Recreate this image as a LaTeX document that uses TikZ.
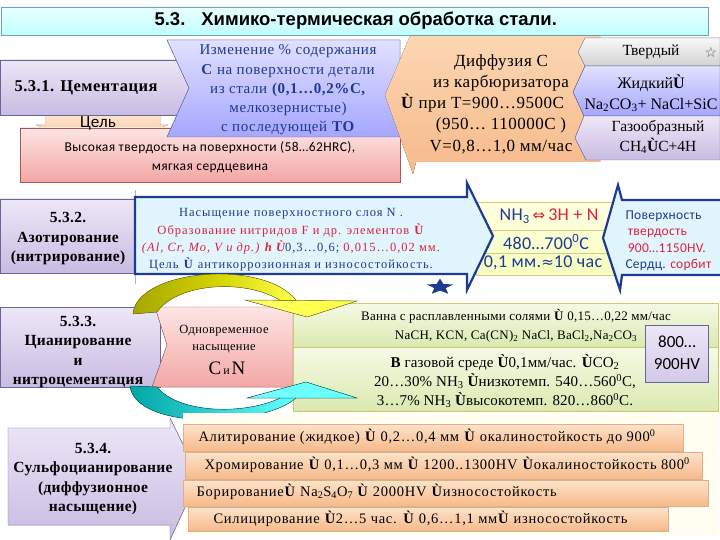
\documentclass[tikz,border=0pt]{standalone}
\usepackage{fontspec}
\setmainfont{Liberation Serif}
\newfontfamily\arialfont{Liberation Sans}
\newfontfamily\calfont{Carlito}
\newfontfamily\dejafont{DejaVu Sans}
\usetikzlibrary{calc}

\definecolor{navy}{HTML}{1F3A93}
\definecolor{redtxt}{HTML}{E0203C}
\definecolor{lilactop}{HTML}{EDE7F7}
\definecolor{lilacbot}{HTML}{C9BBE2}
\definecolor{peachtop}{HTML}{FCD7B3}
\definecolor{peachbot}{HTML}{F7B98B}
\definecolor{pinktop}{HTML}{FDE5E4}
\definecolor{pinkbot}{HTML}{F3A7A6}
\definecolor{greentop}{HTML}{F6FAE5}
\definecolor{greenbot}{HTML}{DAE9B0}

\newcommand{\Uarr}{\textbf{Ù}}
\newcommand{\spaced}[1]{\addfontfeature{LetterSpace=#1}}

\tikzset{
  titlebar/.style={draw=gray!60!cyan, top color=cyan!8, bottom color=cyan!25},
  lilac/.style={draw=gray!80!blue, top color=lilactop, bottom color=lilacbot},
  bluebox/.style={draw=blue!30!gray, top color=blue!12, bottom color=blue!35},
  peach/.style={draw=none, top color=peachtop, bottom color=peachbot},
  pinkbox/.style={draw=red!30!gray, top color=pinktop, bottom color=pinkbot},
  graybox/.style={draw=gray, top color=gray!5, bottom color=gray!35},
  greenbox/.style={draw=olive!45, top color=greentop, bottom color=greenbot},
  barbox/.style={draw=brown!60, top color=peachtop!70, bottom color=peachbot},
  navyarrow/.style={draw=navy, line width=2.2pt, fill=cyan!12, line join=miter},
  headtxt/.style={font=\bfseries\fontsize{15.5}{19.5}\selectfont\spaced{2}, align=center},
  caltxt/.style={font=\calfont\fontsize{18}{21}\selectfont\spaced{2}, text=navy, align=center},
  bartxt/.style={font=\fontsize{14.5}{16}\selectfont\spaced{5}, anchor=west}
}

\begin{document}
\begin{tikzpicture}[x=1pt,y=-1pt]
\useasboundingbox (0,0) rectangle (720,540);

% title
\filldraw[titlebar] (1,7) rectangle (708,35);
\node[font=\arialfont\bfseries\fontsize{18.5}{19}\selectfont, anchor=west] (title) at (151,21) {5.3.\hspace{16pt}Химико-термическая обработка стали.};

% 5.3.1 cementation
\filldraw[draw=brown!50, top color=peachtop!60, bottom color=peachbot] (45,113) -- (160,113) -- (160,125) -- (168,125) -- (102,150) -- (36,125) -- (45,125) -- cycle;
\filldraw[pinkbox] (20,128) rectangle (400,182);
\filldraw[lilac] (0,60) rectangle (192,115);
\filldraw[bluebox] (167,40) -- (400,40) -- (400,137) -- (167,137) -- (189,88) -- cycle;
\filldraw[peach] (410,36) -- (600,36) -- (600,162) -- (416,162) -- (413,174) -- (385,95) -- cycle;

\node[headtxt, font=\bfseries\fontsize{16.5}{19}\selectfont\spaced{3}] (s531) at (86,88) {5.3.1. Цементация};
\node[font=\calfont\fontsize{17}{18}\selectfont] (goal) at (98,123) {Цель};
\node[font=\calfont\fontsize{13.5}{18.5}\selectfont\spaced{3}, align=center] (hard) at (210,157) {Высокая твердость на поверхности (58…62HRC),\\мягкая сердцевина};
\node[font=\fontsize{15}{19.25}\selectfont\spaced{4}, text=navy, align=center] (change) at (288,90) {Изменение \% содержания\\\textbf{С} на поверхности детали\\из стали \textbf{(0,1…0,2\%С,}\\мелкозернистые)\\с последующей \textbf{ТО}};
\node[font=\fontsize{17}{21.25}\selectfont\spaced{3}, align=center] (diff) at (501,104) {Диффузия С\\из карбюризатора\\\makebox[200pt][l]{\Uarr{} при Т=900…9500С}\\(950… 110000С )\\V=0,8…1,0 мм/час};

\filldraw[graybox] (585,38) -- (720,38) -- (720,66) -- (585,66) -- (578,52) -- cycle;
\filldraw[bluebox] (585,66) -- (720,66) -- (720,116) -- (584,116) -- (573,92) -- cycle;
\filldraw[lilac] (584,116) -- (720,116) -- (720,160) -- (586,160) -- (575,138) -- cycle;
\node[font=\fontsize{15.5}{17}\selectfont] (solid) at (651,52) {Твердый};
\node[font=\dejafont\fontsize{14}{14}\selectfont, text=gray!70!black] (starw) at (711,52) {☆};
\node[font=\fontsize{16}{21}\selectfont, align=center] (liquid) at (651,93) {Жидкий\Uarr{}\\Na\textsubscript{2}CO\textsubscript{3}+ NaCl+SiC};
\node[font=\fontsize{15.5}{20}\selectfont, align=center] (gas1) at (658,137) {Газообразный\\CH\textsubscript{4}\Uarr{}C+4H};

% 5.3.2 nitriding
\filldraw[lilac] (0,199) rectangle (134,273);
\draw[gray!60] (135,190) -- (135,284);
\filldraw[draw=olive!40, top color=yellow!12, bottom color=green!15!yellow!25] (476,202) rectangle (618,275);
\draw[olive!40] (476,230) -- (618,230) (476,253) -- (618,253);
\filldraw[navyarrow] (135,197) -- (467,197) -- (467,183) -- (493,236) -- (467,290) -- (467,274) -- (135,274) -- cycle;
\filldraw[navyarrow] (720,200) -- (622,200) -- (618,185) -- (603,238) -- (620,290) -- (622,275) -- (720,275);
\fill[navy, shift={(440,287)}, yscale=0.6] (-90:14) -- (-54:6) -- (-18:14) -- (18:6) -- (54:14) -- (90:6) -- (126:14) -- (162:6) -- (198:14) -- (234:6) -- cycle;

\node[headtxt] (s532) at (68,239) {5.3.2.\\Азотирование\\(нитрирование)};
\node[font=\fontsize{12.5}{17.3}\selectfont\spaced{8}, align=center] (nitr) at (291,240) {\textcolor{navy}{Насыщение поверхностного слоя N .}\\\textcolor{redtxt}{Образование нитридов F и др. элементов \Uarr{}}\\\textcolor{redtxt}{\itshape (Al, Cr, Mo, V и др.) \textbf{h} \Uarr{}}\textcolor{navy}{0,3…0,6; }\textcolor{redtxt}{0,015…0,02 мм.}\\\textcolor{navy}{Цель \Uarr{} антикоррозионная и износостойкость.}};
\node[caltxt] (nh3) at (549,216) {NH\textsubscript{3}\,\textcolor{redtxt}{\dejafont\fontsize{15}{15}\selectfont ⇔}\,\textcolor{redtxt}{3H + N}};
\node[caltxt] (temp) at (546,242) {480…700\textsuperscript{0}C};
\node[caltxt] (depth) at (543,263) {0,1 мм.{\dejafont\fontsize{15}{15}\selectfont ≈}10 час};
\node[font=\calfont\fontsize{13.5}{16.5}\selectfont\spaced{2}, align=left, anchor=west] (surf) at (622,241) {\textcolor{navy}{Поверхность}\\\textcolor{redtxt}{\,твердость}\\\textcolor{redtxt}{\,900…1150HV.}\\\textcolor{navy}{Сердц.} \textcolor{redtxt}{сорбит}};

% 5.3.3 cyaniding
\filldraw[lilac] (0,307) rectangle (160,387);
\filldraw[pinkbox] (155,307) -- (293,307) -- (293,387) -- (152,387) -- (167,345) -- cycle;
\filldraw[greenbox] (293,303) rectangle (718,347);
\filldraw[greenbox] (293,347) rectangle (718,411);
\filldraw[draw=gray!80!blue, top color=lilactop, bottom color=lilacbot!80] (645,325) rectangle (708,382);

\node[headtxt] (s533) at (78,352) {5.3.3.\\Цианирование\\и\\нитроцементация};
\node[font=\fontsize{12.5}{17}\selectfont\spaced{3}, align=center] (both) at (224,339) {Одновременное\\насыщение};
\node[font=\fontsize{19}{20}\selectfont] (cn) at (227,368) {С{\fontsize{12}{12}\selectfont\,и\,}N};
\node[font=\fontsize{13}{19}\selectfont\spaced{2}, align=center] (bath) at (516,326) {Ванна с расплавленными солями \Uarr{} 0,15…0,22 мм/час\\NaCH, KCN, Ca(CN)\textsubscript{2} NaCl, BaCl\textsubscript{2},Na\textsubscript{2}CO\textsubscript{3}};
\node[font=\fontsize{15}{19}\selectfont\spaced{1}, align=center] (gas2) at (505,381) {\textbf{В} газовой среде \Uarr{}0,1мм/час. \Uarr{}CO\textsubscript{2}\\20…30\% NH\textsubscript{3} \Uarr{}низкотемп. 540…560\textsuperscript{0}С,\\3…7\% NH\textsubscript{3} \Uarr{}высокотемп. 820…860\textsuperscript{0}С.};
\node[font=\calfont\fontsize{17}{22}\selectfont, align=center] (hv) at (677,353) {800…\\900HV};

% curved arrows
\filldraw[draw=olive!70!black, left color=olive!70!yellow, right color=yellow!70] (133,314) .. controls (136,270) and (262,258) .. (296,300) -- (284,303) .. controls (250,278) and (178,282) .. (157,312) -- cycle;
\filldraw[draw=olive!70!black, left color=yellow!60, right color=yellow!75] (245,300) -- (357,301) -- (307,317) -- cycle;
\filldraw[draw=teal!70!black, left color=teal!70!cyan, right color=cyan!60] (130,386) .. controls (135,430) and (262,428) .. (296,398) -- (284,396) .. controls (250,415) and (180,415) .. (157,387) -- cycle;
\filldraw[draw=teal!70!black, left color=cyan!55, right color=cyan!60] (247,398) -- (357,398) -- (306,382) -- cycle;

% 5.3.4 diffusion saturation
\fill[yellow!6] (183,413) rectangle (718,536);
\filldraw[lilac] (8,428) -- (170,428) -- (170,418) -- (199,477) -- (170,540) -- (170,525) -- (8,525) -- cycle;
\node[headtxt] (s534) at (93,479) {5.3.4.\\Сульфоцианирование\\(диффузионное\\насыщение)};

\filldraw[barbox] (183,424) rectangle (683,451);
\filldraw[barbox] (185,452) rectangle (702,479);
\filldraw[barbox] (183,480) rectangle (708,506);
\filldraw[barbox] (188,507) rectangle (668,531);
\node[bartxt] (alum) at (195,437) {Алитирование (жидкое) \Uarr{} 0,2…0,4 мм \Uarr{} окалиностойкость до 900\textsuperscript{0}};
\node[bartxt] (chrom) at (201,465) {Хромирование \Uarr{} 0,1…0,3 мм \Uarr{} 1200..1300HV \Uarr{}окалиностойкость 800\textsuperscript{0}};
\node[bartxt] (boron) at (193,492) {Борирование\Uarr{} Na\textsubscript{2}S\textsubscript{4}O\textsubscript{7} \Uarr{} 2000HV \Uarr{}износостойкость};
\node[bartxt] (silic) at (210,519) {Силицирование \Uarr{}2…5 час. \Uarr{} 0,6…1,1 мм\Uarr{} износостойкость};
\end{tikzpicture}
\end{document}
